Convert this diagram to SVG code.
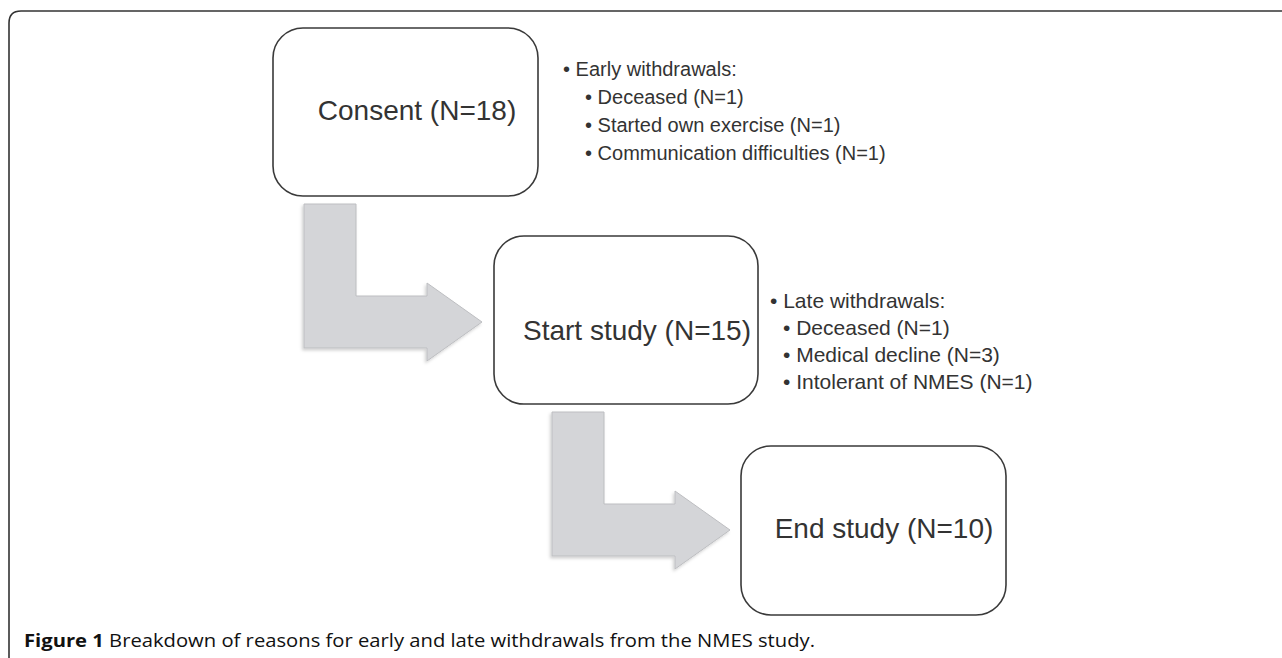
<svg xmlns="http://www.w3.org/2000/svg" width="1282" height="658" viewBox="0 0 1282 658">
<style>
.box{fill:#fff;stroke:#3a3a3a;stroke-width:1.6}
.lbl{font-family:"Liberation Sans",Arial,sans-serif;font-size:28px;fill:#333}
.lst{font-family:"Liberation Sans",Arial,sans-serif;font-size:20px;fill:#333}
.lst2{font-family:"Liberation Sans",Arial,sans-serif;font-size:21px;fill:#333}
.arr{fill:#d4d5d8;stroke:#bdbec1;stroke-width:1}
.cap{font-family:"Open Sans","Liberation Sans",sans-serif;font-size:18.5px;fill:#111}
</style>
<defs>
<filter id="sh" x="-10%" y="-10%" width="130%" height="130%">
<feDropShadow dx="-1.5" dy="2" stdDeviation="1.5" flood-color="#000" flood-opacity="0.18"/>
</filter>
<path id="bend" d="M0,0 H52 V92 H123 V79 L178,118 L123,157 V144 H0 Z"/>
</defs>
<path d="M9,658 V23 Q9,11 21,11 H1282" fill="none" stroke="#333" stroke-width="1.6"/>
<g id="connectors">
<use href="#bend" class="arr" x="304" y="204" filter="url(#sh)"/>
<use href="#bend" class="arr" x="552" y="412" filter="url(#sh)"/>
</g>
<g id="consent">
<rect class="box" x="273" y="28" width="265" height="168" rx="30"/>
<text class="lbl" x="417" y="120" text-anchor="middle">Consent (N=18)</text>
</g>
<g id="early">
<text class="lst" x="563" y="76">• Early withdrawals:</text>
<text class="lst" x="585" y="104">• Deceased (N=1)</text>
<text class="lst" x="585" y="132">• Started own exercise (N=1)</text>
<text class="lst" x="585" y="160">• Communication difficulties (N=1)</text>
</g>
<g id="start">
<rect class="box" x="494" y="236" width="264" height="168" rx="30"/>
<text class="lbl" x="637" y="340" text-anchor="middle">Start study (N=15)</text>
</g>
<g id="late">
<text class="lst2" x="770" y="308">• Late withdrawals:</text>
<text class="lst2" x="783" y="335">• Deceased (N=1)</text>
<text class="lst2" x="783" y="362">• Medical decline (N=3)</text>
<text class="lst2" x="783" y="389">• Intolerant of NMES (N=1)</text>
</g>
<g id="end">
<rect class="box" x="741" y="446" width="265" height="169" rx="30"/>
<text class="lbl" x="884" y="538" text-anchor="middle">End study (N=10)</text>
</g>
<text class="cap" x="24" y="647" textLength="791" lengthAdjust="spacingAndGlyphs"><tspan font-weight="bold">Figure 1</tspan> Breakdown of reasons for early and late withdrawals from the NMES study.</text>
</svg>
